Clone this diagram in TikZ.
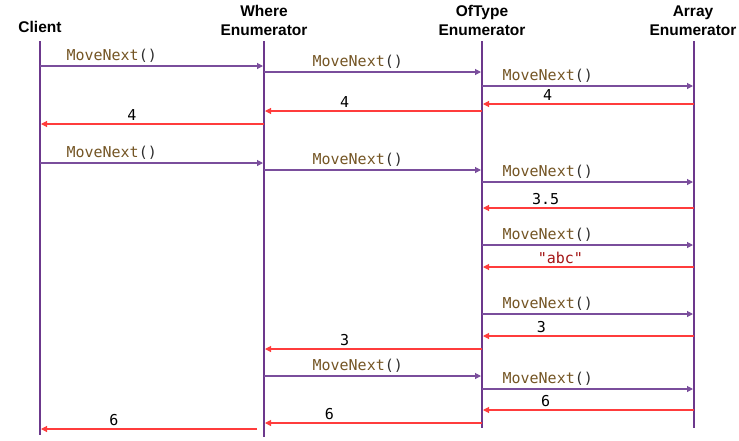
\documentclass[tikz,border=0pt]{standalone}
\usepackage{fontspec}
\setmainfont{Liberation Sans}
\newfontfamily\codefont{DejaVu Sans Mono}
\usetikzlibrary{arrows.meta}
\definecolor{life}{RGB}{108,56,140}
\definecolor{callc}{RGB}{122,78,156}
\definecolor{retc}{RGB}{255,60,60}
\definecolor{mbrown}{RGB}{116,85,36}
\definecolor{pdark}{RGB}{45,45,45}
\definecolor{sred}{RGB}{163,21,21}
\newcommand{\mvn}{\textcolor{mbrown}{MoveNext}\textcolor{pdark}{()}}
\newcommand{\sabc}{\textcolor{sred}{"abc"}}

\begin{document}
\begin{tikzpicture}[x=1pt,y=-1pt,
	head/.style={font=\fontsize{15.5}{19}\selectfont\bfseries,align=center,inner sep=0pt,anchor=south},
	lifeline/.style={draw=life,line width=2.2pt},
	callmsg/.style={color=callc,line width=1.1pt,shorten >=1pt,-{Triangle[length=6pt,width=6pt]}},
	retmsg/.style={color=retc,line width=1.1pt,shorten >=1pt,-{Triangle[length=6pt,width=6pt]}},
	lbl/.style={font=\codefont\fontsize{15}{18}\selectfont,text=black,inner sep=3pt,above}]
	\useasboundingbox (0,0) rectangle (739,440);
	% lifelines
	\coordinate (C) at (40,41);  \coordinate (Cend) at (40,435);
	\coordinate (W) at (264,41); \coordinate (Wend) at (264,437);
	\coordinate (O) at (482,41); \coordinate (Oend) at (482,428);
	\coordinate (A) at (694,41); \coordinate (Aend) at (694,428);
	\node[head] (hC) at (40,33) {Client};
	\node[head] (hW) at (264,36) {Where\\Enumerator};
	\node[head] (hO) at (482,36) {OfType\\Enumerator};
	\node[head] (hA) at (693,36) {Array\\Enumerator};
	\draw[lifeline] (C) -- (Cend);
	\draw[lifeline] (W) -- (Wend);
	\draw[lifeline] (O) -- (Oend);
	\draw[lifeline] (A) -- (Aend);
	% calls
	\path[callmsg]
	(C |- 0,66)  edge node[lbl,pos=.32] {\mvn} (W |- 0,66)
	(W |- 0,72)  edge node[lbl,pos=.43] {\mvn} (O |- 0,72)
	(O |- 0,86)  edge node[lbl,pos=.31] {\mvn} (A |- 0,86)
	(C |- 0,163) edge node[lbl,pos=.32] {\mvn} (W |- 0,163)
	(W |- 0,170) edge node[lbl,pos=.43] {\mvn} (O |- 0,170)
	(O |- 0,182) edge node[lbl,pos=.31] {\mvn} (A |- 0,182)
	(O |- 0,245) edge node[lbl,pos=.31] {\mvn} (A |- 0,245)
	(O |- 0,314) edge node[lbl,pos=.31] {\mvn} (A |- 0,314)
	(W |- 0,376) edge node[lbl,pos=.43] {\mvn} (O |- 0,376)
	(O |- 0,389) edge node[lbl,pos=.31] {\mvn} (A |- 0,389);
	% results
	\path[retmsg]
	(A |- 0,104) edge node[lbl,pos=.69] {4} (O |- 0,104)
	(O |- 0,111) edge node[lbl,pos=.63] {4} (W |- 0,111)
	(W |- 0,124) edge node[lbl,pos=.59] {4} (C |- 0,124)
	(A |- 0,208) edge node[lbl,pos=.70] {3.5} (O |- 0,208)
	(A |- 0,267) edge node[lbl,pos=.63] {\sabc} (O |- 0,267)
	(A |- 0,336) edge node[lbl,pos=.72] {3} (O |- 0,336)
	(O |- 0,349) edge node[lbl,pos=.63] {3} (W |- 0,349)
	(A |- 0,410) edge node[lbl,pos=.70] {6} (O |- 0,410)
	(O |- 0,423) edge node[lbl,pos=.70] {6} (W |- 0,423)
	(W |- 0,429) edge[shorten <=7pt] node[lbl,pos=.67] {6} (C |- 0,429);
\end{tikzpicture}
\end{document}
